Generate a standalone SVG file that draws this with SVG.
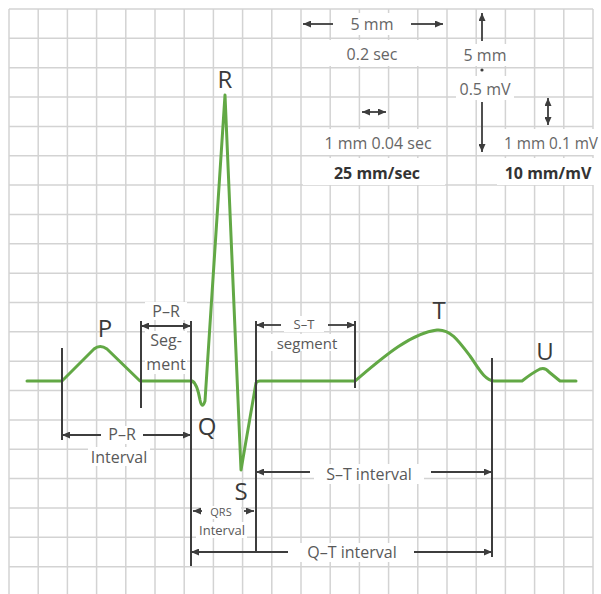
<svg xmlns="http://www.w3.org/2000/svg" width="601" height="594" viewBox="0 0 601 594">
<style>
.grid{stroke:#d3d3d3;stroke-width:1.5;fill:none}
.bg{fill:#ffffff}
.ecg{fill:none;stroke:#62a845;stroke-width:3;stroke-linejoin:round;stroke-linecap:round}
.vl{stroke:#3d3d3d;stroke-width:2;fill:none}
.ar{stroke:#3d3d3d;stroke-width:1.8;fill:none}
.wave{font-family:"Open Sans","Liberation Sans",sans-serif;font-size:24px;fill:#3a3a3a;text-anchor:middle}
.lbl{font-family:"Open Sans","Liberation Sans",sans-serif;font-size:16px;fill:#595959;text-anchor:middle}
.scale{font-family:"Open Sans","Liberation Sans",sans-serif;font-size:16px;fill:#666666;text-anchor:middle}
.bold{font-family:"Open Sans","Liberation Sans",sans-serif;font-size:16px;font-weight:bold;fill:#333333;text-anchor:middle}
</style>
<defs>
<marker id="ah" viewBox="0 0 8 7" refX="8" refY="3.5" markerWidth="8" markerHeight="7" markerUnits="userSpaceOnUse" orient="auto-start-reverse">
<path d="M0,0 L8,3.5 L0,7 z" fill="#3d3d3d"/>
</marker>
</defs>
<rect x="0" y="0" width="601" height="594" fill="#ffffff"/>
<g id="grid">
<path class="grid" d="M9,9V594M38.2,9V594M67.4,9V594M96.6,9V594M125.8,9V594M155,9V594M184.2,9V594M213.4,9V594M242.6,9V594M271.8,9V594M301,9V594M330.2,9V594M359.4,9V594M388.6,9V594M417.8,9V594M447,9V594M476.2,9V594M505.4,9V594M534.6,9V594M563.8,9V594M593,9V594
M9,9H593M9,38.35H593M9,67.7H593M9,97.05H593M9,126.4H593M9,155.75H593M9,185.1H593M9,214.45H593M9,243.8H593M9,273.15H593M9,302.5H593M9,331.85H593M9,361.2H593M9,390.55H593M9,419.9H593M9,449.25H593M9,478.6H593M9,507.95H593M9,537.3H593M9,566.65H593"/>
</g>
<g id="label-backgrounds">
<rect class="bg" x="336" y="13" width="74" height="22"/>
<rect class="bg" x="303" y="40" width="142" height="26"/>
<rect class="bg" x="303" y="129" width="142" height="26"/>
<rect class="bg" x="303" y="158" width="142" height="27"/>
<rect class="bg" x="458" y="44" width="54" height="22"/>
<rect class="bg" x="456" y="76" width="58" height="24"/>
<rect class="bg" x="500" y="129" width="101" height="26"/>
<rect class="bg" x="497" y="158" width="100" height="27"/>
<rect class="bg" x="145" y="302" width="42" height="18"/>
<rect class="bg" x="145" y="331" width="42" height="43"/>
<rect class="bg" x="284" y="316" width="40" height="16"/>
<rect class="bg" x="270" y="334" width="75" height="17"/>
<rect class="bg" x="104" y="426" width="38" height="18"/>
<rect class="bg" x="88" y="447" width="62" height="19"/>
<rect class="bg" x="314" y="464" width="110" height="20"/>
<rect class="bg" x="294" y="543" width="116" height="19"/>
<rect class="bg" x="201" y="506" width="40" height="13"/>
<rect class="bg" x="196" y="522" width="51" height="16"/>
</g>
<g id="ecg-trace">
<path class="ecg" d="M27,381 L62,381 L94,349 Q100,344 107,349 L140,381 L192,381 Q197,383 200,400 Q202,410 205,401 L225,95 L241,470 L256,383 Q257,381 260,381 L355,381 C380,360 410,333 437,330 C450,329 458,340 470,356 C478,367 484,380 494,381 L522,381 Q532,373 540,369 Q545,367 549,372 L560,381 L576,381"/>
</g>
<g id="connectors">
<path class="vl" d="M62,348V440M141,321V408M191,321V566M256,321V553M355,321V388M492,358V557"/>
<line class="ar" x1="62" y1="435" x2="101" y2="435" marker-start="url(#ah)"/>
<line class="ar" x1="143" y1="435" x2="191" y2="435" marker-end="url(#ah)"/>
<line class="ar" x1="141" y1="326" x2="191" y2="326" marker-start="url(#ah)" marker-end="url(#ah)"/>
<line class="ar" x1="256" y1="325" x2="281" y2="325" marker-start="url(#ah)"/>
<line class="ar" x1="328" y1="325" x2="355" y2="325" marker-end="url(#ah)"/>
<line class="ar" x1="256" y1="472" x2="310" y2="472" marker-start="url(#ah)"/>
<line class="ar" x1="431" y1="472" x2="492" y2="472" marker-end="url(#ah)"/>
<line class="ar" x1="191" y1="552" x2="288" y2="552" marker-start="url(#ah)"/>
<line class="ar" x1="414" y1="552" x2="492" y2="552" marker-end="url(#ah)"/>
<line class="ar" x1="193" y1="511" x2="202" y2="511" marker-start="url(#ah)"/>
<line class="ar" x1="244" y1="511" x2="254" y2="511" marker-end="url(#ah)"/>
<line class="ar" x1="303" y1="24" x2="333" y2="24" marker-start="url(#ah)"/>
<line class="ar" x1="411" y1="24" x2="443" y2="24" marker-end="url(#ah)"/>
<line class="ar" x1="482" y1="13" x2="482" y2="41" marker-start="url(#ah)"/>
<line class="ar" x1="482" y1="102" x2="482" y2="152" marker-end="url(#ah)"/>
<circle cx="482" cy="70" r="1.6" fill="#3d3d3d"/>
<line class="ar" x1="362" y1="112" x2="386" y2="112" marker-start="url(#ah)" marker-end="url(#ah)"/>
<line class="ar" x1="548" y1="98" x2="548" y2="125" marker-start="url(#ah)" marker-end="url(#ah)"/>
</g>
<g id="wave-labels">
<text class="wave" x="225" y="88">R</text>
<text class="wave" x="105" y="337">P</text>
<text class="wave" x="207" y="435">Q</text>
<text class="wave" x="241" y="500">S</text>
<text class="wave" x="439" y="319">T</text>
<text class="wave" x="545" y="360">U</text>
</g>
<g id="interval-labels">
<text class="lbl" x="304" y="329" style="font-size:13px">S–T</text>
<text class="lbl" x="307" y="349" style="font-size:15px">segment</text>
<text class="lbl" x="122" y="440">P–R</text>
<text class="lbl" x="119" y="463">Interval</text>
<text class="lbl" x="166" y="317">P–R</text>
<text class="lbl" x="166" y="346">Seg-</text>
<text class="lbl" x="166" y="370">ment</text>
<text class="lbl" x="369" y="480">S–T interval</text>
<text class="lbl" x="352" y="558">Q–T interval</text>
<text class="lbl" x="221" y="516" style="font-size:11px">QRS</text>
<text class="lbl" x="222" y="535" style="font-size:13px">Interval</text>
</g>
<g id="scale-labels">
<text class="scale" x="372" y="30">5 mm</text>
<text class="scale" x="372" y="60">0.2 sec</text>
<text class="scale" x="485" y="61">5 mm</text>
<text class="scale" x="485" y="95">0.5 mV</text>
<text class="scale" x="378" y="149">1 mm 0.04 sec</text>
<text class="scale" x="504" y="149" style="text-anchor:start" textLength="94" lengthAdjust="spacingAndGlyphs">1 mm 0.1 mV</text>
<text class="bold" x="377" y="179">25 mm/sec</text>
<text class="bold" x="548" y="179">10 mm/mV</text>
</g>
</svg>
